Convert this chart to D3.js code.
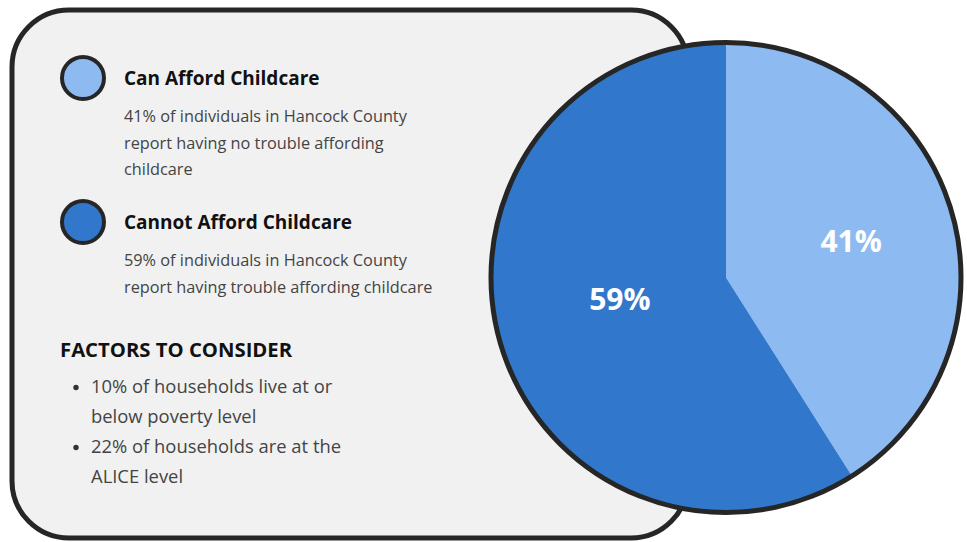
<!DOCTYPE html>
<html>
<head>
<meta charset="utf-8">
<script src="https://cdn.jsdelivr.net/npm/d3@7"></script>
<style>
  html, body { margin: 0; padding: 0; background: #fff; }
  svg { display: block; font-family: 'Open Sans', 'Noto Sans', sans-serif; }
</style>
</head>
<body>
<div id="chart"></div>
<script>
// data
const sliceNames = ['Can Afford Childcare', 'Cannot Afford Childcare'];
const sliceValues = [41, 59];
const sliceColors = ['#8dbaf0', '#3178cc'];
const sliceNotes = [
  ['41% of individuals in Hancock County', 'report having no trouble affording', 'childcare'],
  ['59% of individuals in Hancock County', 'report having trouble affording childcare']
];
const factorsTitle = 'FACTORS TO CONSIDER';
const factors = [
  ['10% of households live at or', 'below poverty level'],
  ['22% of households are at the', 'ALICE level']
];

const width = 967;
const height = 542;
const ink = '#262626';

const svg = d3.select('#chart').append('svg')
  .attr('width', width)
  .attr('height', height)
  .attr('viewBox', `0 0 ${width} ${height}`);

// grey card behind the legend
svg.append('rect')
  .attr('x', 12).attr('y', 10)
  .attr('width', 676).attr('height', 528)
  .attr('rx', 57).attr('ry', 57)
  .attr('fill', '#f1f1f1')
  .attr('stroke', ink)
  .attr('stroke-width', 5);

// legend entries
const legend = svg.append('g');
const entryY = [78, 222];

sliceNames.forEach((name, i) => {
  const g = legend.append('g').attr('transform', `translate(0,${entryY[i]})`);
  g.append('circle')
    .attr('cx', 83).attr('cy', 0).attr('r', 21)
    .attr('fill', sliceColors[i])
    .attr('stroke', ink)
    .attr('stroke-width', 4);
  g.append('text')
    .attr('x', 124).attr('y', 6.5)
    .attr('font-size', 19).attr('font-weight', 700)
    .attr('fill', '#111')
    .text(name);
  g.selectAll('text.note')
    .data(sliceNotes[i])
    .join('text')
    .attr('class', 'note')
    .attr('x', 124)
    .attr('y', (d, j) => 44 + j * 26.5)
    .attr('font-size', 16.3)
    .attr('fill', '#444')
    .text(d => d);
});

// factors block
legend.append('text')
  .attr('x', 60).attr('y', 357)
  .attr('font-size', 20.3).attr('font-weight', 700)
  .attr('fill', '#111')
  .text(factorsTitle);

let line = 0;
factors.forEach(lines => {
  legend.append('circle')
    .attr('cx', 76).attr('cy', 387.5 + line * 30)
    .attr('r', 2.7)
    .attr('fill', '#333');
  lines.forEach(t => {
    legend.append('text')
      .attr('x', 91).attr('y', 393 + line * 30)
      .attr('font-size', 18.4)
      .attr('fill', '#444')
      .text(t);
    line++;
  });
});

// pie
const cx = 726, cy = 277.5, radius = 235;

const pie = d3.pie().sort(null).value(d => d);
const arcs = pie(sliceValues);
const arc = d3.arc().innerRadius(0).outerRadius(radius);
const labelArc = d3.arc().innerRadius(radius * 0.55).outerRadius(radius * 0.55);
// small layout nudges so the labels sit where the original placed them
const labelNudge = [[1, 0], [18, -14]];

const pg = svg.append('g').attr('transform', `translate(${cx},${cy})`);

pg.selectAll('path.slice')
  .data(arcs)
  .join('path')
  .attr('class', 'slice')
  .attr('d', arc)
  .attr('fill', (d, i) => sliceColors[i]);

pg.append('circle')
  .attr('r', radius)
  .attr('fill', 'none')
  .attr('stroke', ink)
  .attr('stroke-width', 5);

pg.selectAll('text.pct')
  .data(arcs)
  .join('text')
  .attr('class', 'pct')
  .attr('transform', (d, i) => {
    const [x, y] = labelArc.centroid(d);
    const [nx, ny] = labelNudge[i];
    return `translate(${x + nx},${y + ny})`;
  })
  .attr('text-anchor', 'middle')
  .attr('dy', '0.35em')
  .attr('font-size', 30)
  .attr('font-weight', 700)
  .attr('fill', '#fff')
  .text(d => `${d.data}%`);
</script>
</body>
</html>
